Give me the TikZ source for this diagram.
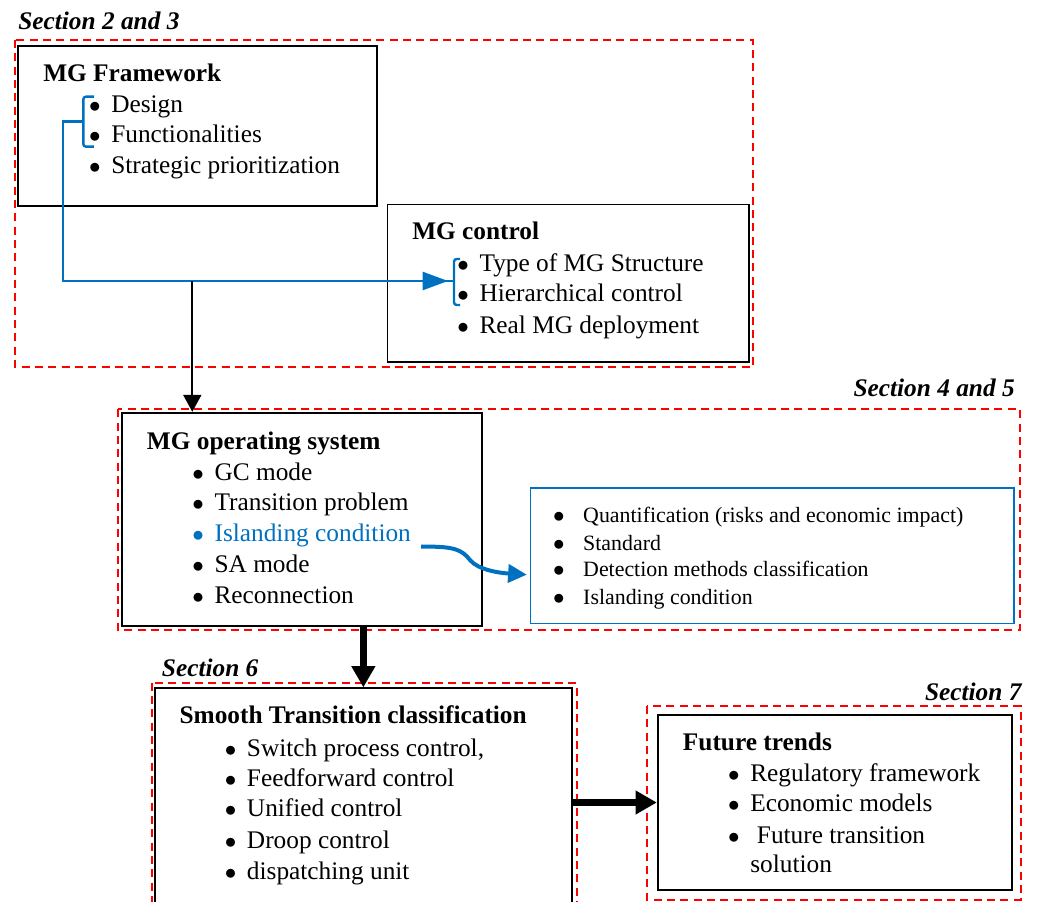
\documentclass[tikz,border=0pt]{standalone}
\usepackage{fontspec}
\setmainfont{Liberation Serif}
\usetikzlibrary{arrows.meta,calc}
\definecolor{mgblue}{RGB}{0,112,192}
\definecolor{secred}{RGB}{255,0,0}
\newcommand{\itm}[1][8pt]{\llap{$\bullet$\hspace{#1}}}
\tikzset{
  secbox/.style={draw=secred, line width=1.5pt, dash pattern=on 6pt off 4pt},
  mgbox/.style={draw, line width=1.3pt, inner sep=0pt},
  txt/.style={anchor=base west, inner sep=0pt, font=\fontsize{19}{23}\selectfont},
  ttl/.style={txt, font=\fontsize{19}{23}\selectfont\bfseries},
  seclbl/.style={txt, font=\fontsize{19}{23}\selectfont\bfseries\itshape},
  sml/.style={txt, font=\fontsize{16.4}{20}\selectfont},
  thinarr/.style={line width=1.5pt, -{Triangle[length=12.75pt,width=13.5pt]}},
  fatarr/.style={line width=5pt, -{Triangle[length=16pt,width=17pt]}},
  blueln/.style={draw=mgblue, line width=1.8pt},
}
\begin{document}
\begin{tikzpicture}[x=0.75pt, y=-0.75pt]
			%%%%% START %%%%%
			\useasboundingbox (0,0) rectangle (1038,902);
			\clip (0,0) rectangle (1038,902);
			
			% section frames
			\draw[secbox] (14.7,40) rectangle (753,366.5);
			\draw[secbox] (118,409.3) rectangle (1020,629.5);
			\draw[secbox] (151.7,682.7) rectangle (576.7,950);
			\draw[secbox] (647.3,706) rectangle (1020.7,899.5);
			
			\node[seclbl] (s23) at (18,30) {Section 2 and 3};
			\node[seclbl, anchor=base east] (s45) at (1015,396.7) {Section 4 and 5};
			\node[seclbl] (s6) at (161.7,676) {Section 6};
			\node[seclbl, anchor=base east] (s7) at (1021.7,700) {Section 7};
			
			% boxes
			\node[mgbox, minimum width=268.8pt, minimum height=120pt] (fw) at (197.5,125.7) {};
			\node[mgbox, minimum width=271.4pt, minimum height=117.9pt] (ctl) at (568.4,283.1) {};
			\node[mgbox, minimum width=269.6pt, minimum height=160pt] (ops) at (302,519.35) {};
			\node[mgbox, draw=mgblue, line width=1.1pt, minimum width=362.6pt, minimum height=101.5pt] (isl) at (772.25,555.65) {};
			\node[mgbox, minimum width=312.5pt, minimum height=188.8pt] (smo) at (363.35,814.15) {};
			\node[mgbox, minimum width=265.5pt, minimum height=131.25pt] (fut) at (834.7,802.5) {};
			
			% MG Framework
			\node[ttl] (fwt) at (43,82) {MG Framework};
			\node[txt] (fw1) at (111,113) {\itm Design};
			\node[txt] (fw2) at (111,143) {\itm Functionalities};
			\node[txt] (fw3) at (111,174) {\itm Strategic prioritization};
			
			% MG control
			\node[ttl] (ctlt) at (412,240) {MG control};
			\node[txt] (ctl1) at (479.3,271.7) {\itm Type of MG Structure};
			\node[txt] (ctl2) at (479.3,301.7) {\itm Hierarchical control};
			\node[txt] (ctl3) at (479.3,333.3) {\itm Real MG deployment};
			
			% MG operating system
			\node[ttl] (opst) at (146.7,449) {MG operating system};
			\node[txt] (ops1) at (214.3,480) {\itm GC mode};
			\node[txt] (ops2) at (214.3,510) {\itm Transition problem};
			\node[txt, text=mgblue] (ops3) at (214.3,541.7) {\itm Islanding condition};
			\node[txt] (ops4) at (214.3,572.7) {\itm SA mode};
			\node[txt] (ops5) at (214.3,603.3) {\itm Reconnection};
			
			% islanding details
			\node[sml] (isl1) at (577.5,522.7) {\itm[9.9pt] Quantification (risks and economic impact)};
			\node[sml] (isl2) at (577.5,550) {\itm[9.9pt] Standard};
			\node[sml] (isl3) at (577.5,576.7) {\itm[9.9pt] Detection methods classification};
			\node[sml] (isl4) at (577.5,604) {\itm[9.9pt] Islanding condition};
			
			% Smooth transition
			\node[ttl] (smot) at (179.3,723.3) {Smooth Transition classification};
			\node[txt] (smo1) at (246.7,756.7) {\itm Switch process control,};
			\node[txt] (smo2) at (246.7,786.7) {\itm Feedforward control};
			\node[txt] (smo3) at (246.7,816.7) {\itm Unified control};
			\node[txt] (smo4) at (246.7,848.3) {\itm Droop control};
			\node[txt] (smo5) at (246.7,879.3) {\itm dispatching unit};
			
			% Future trends
			\node[ttl] (futt) at (682.7,750.7) {Future trends};
			\node[txt] (fut1) at (750,781.7) {\itm Regulatory framework};
			\node[txt] (fut2) at (750,811.7) {\itm Economic models};
			\node[txt] (fut3) at (750,843.3) {\itm\hspace{5pt}Future transition};
			\node[txt] (fut4) at (750,872.7) {solution};
			
			% blue brackets and link
			\coordinate (fwbr) at (83.3,121.7);
			\coordinate (ctlbr) at (454,281);
			\coordinate (tee) at (192.3,281);
			\draw[blueln, rounded corners=2pt] (94,96.7) -- (83.3,96.7) -- (83.3,146.7) -- (94,146.7);
			\draw[blueln, rounded corners=2pt] (460,259) -- (454,259) -- (454,305) -- (460,305);
			\draw[blueln, -{Triangle[length=19pt,width=13.5pt]}] (fwbr) -- ++(-20.6,0) |- ($(ctlbr)+(-6,0)$);
			\draw[blueln] ($(ctlbr)+(-8,0)$) -- (ctlbr);
			
			% arrows
			\draw[thinarr] (tee) -- (tee |- ops.north);
			\coordinate (islfrom) at ($(ops3.base east)+(10,5)$);
			\coordinate (islto) at ($(isl.west)+(-3,19)$);
			\draw[draw=mgblue, line width=3pt, -{Triangle[length=14pt,width=13.5pt]}] (islfrom) .. controls (455,546) and (462,550) .. (470,560) .. controls (478,570) and (500,573) .. (islto);
			\draw[fatarr] (smo.north |- ops.south) -- (smo.north);
			\draw[fatarr] (fut.west -| smo.east) -- (fut.west);
			
			%%%%% END %%%%%
		\end{tikzpicture}
\end{document}
